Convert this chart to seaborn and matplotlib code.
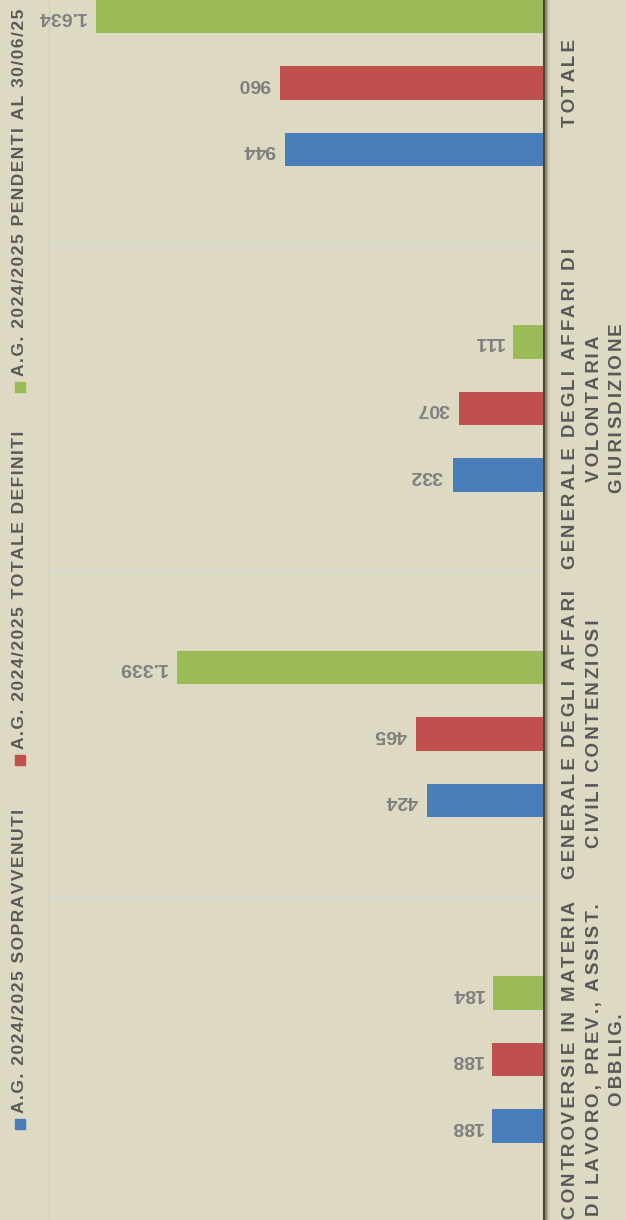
import pandas as pd
import numpy as np
import matplotlib
matplotlib.use("Agg")
import matplotlib.pyplot as plt
from matplotlib.patches import Rectangle
import seaborn as sns

# Dati
categorie = [
    "CONTROVERSIE IN MATERIA\nDI LAVORO, PREV., ASSIST.\nOBBLIG.",
    "GENERALE DEGLI AFFARI\nCIVILI CONTENZIOSI",
    "GENERALE DEGLI AFFARI DI\nVOLONTARIA\nGIURISDIZIONE",
    "TOTALE",
]
serie = [
    "A.G. 2024/2025 SOPRAVVENUTI",
    "A.G. 2024/2025 TOTALE DEFINITI",
    "A.G. 2024/2025 PENDENTI AL 30/06/25",
]
sopravvenuti = [188, 424, 332, 944]
definiti = [188, 465, 307, 960]
pendenti = [184, 1339, 111, 1634]
colori = ["#4a7ebb", "#c0504d", "#9bbb59"]

plt.rcParams['font.family'] = ['Liberation Sans', 'DejaVu Sans']

W, H = 626, 1220
sfondo = "#ddd9c3"

df = pd.DataFrame({
    "categoria": categorie * 3,
    "serie": [s for s in serie for _ in categorie],
    "valore": sopravvenuti + definiti + pendenti,
})

fig = plt.figure(figsize=(W / 100, H / 100), dpi=100, facecolor=sfondo)
ax = fig.add_axes([49 / W, 0, 494.5 / W, 1], facecolor=sfondo)

sns.barplot(data=df, x="valore", y="categoria", hue="serie",
            order=categorie[::-1], hue_order=serie[::-1],
            palette=dict(zip(serie, colori)), orient="h",
            width=0.613, gap=0.49, saturation=1, legend=False, ax=ax)

ax.set_xlim(1805, 0)
ax.set_ylim(3.493, -0.255)
ax.set_xlabel("")
ax.set_ylabel("")
ax.set_xticks([])

# linee di separazione tra le categorie
for yy in [0.5, 1.5, 2.5]:
    ax.axhline(yy, color="#dadada", lw=0.9, zorder=0)

for s in ["top", "bottom"]:
    ax.spines[s].set_visible(False)
ax.spines["left"].set_color("#d4d0b9")
ax.spines["left"].set_linewidth(1)
ax.spines["right"].set_color("#4b4733")
ax.spines["right"].set_linewidth(2.2)
# ombra dell'asse
for dx, c in [(2.5, "#8a8670"), (4, "#b3af97"), (5.5, "#cdc9b2")]:
    fig.add_artist(plt.Line2D([(543.5 + dx) / W] * 2, [0, 1], color=c, lw=1.5,
                              transform=fig.transFigure))

# etichette dei valori (capovolte)
for cont in ax.containers:
    for bar in cont:
        v = bar.get_width()
        yc = bar.get_y() + bar.get_height() / 2
        testo = f"{int(round(v)):,}".replace(",", ".")
        ax.annotate(testo, xy=(v, yc), xytext=(-7, 0), textcoords="offset points",
                    rotation=180, ha="right", va="center", fontsize=14,
                    fontweight="bold", color="#7f7f7f")

# spaziatura tra le lettere con hair space (alterna 1 e n)
def spaziato(s, n):
    righe = []
    for riga in s.split("\n"):
        out = ""
        for i, ch in enumerate(riga):
            out += ch
            if i < len(riga) - 1:
                out += "\u200a" * (n if i % 2 == 0 else 1)
        righe.append(out)
    return "\n".join(righe)

# etichette delle categorie a destra, ruotate
ax.yaxis.tick_right()
ax.set_yticks(range(4))
ax.set_yticklabels([spaziato(c, 2) for c in categorie[::-1]], rotation=90,
                   ha="left", va="center", multialignment="center",
                   fontsize=13.5, fontweight="bold", color="#595959",
                   linespacing=1.5)
ax.tick_params(axis="y", length=0, pad=13.5)

# legenda manuale, ruotata
leg_y = [1124, 760, 387]
for s, c, yy in zip(serie, colori, leg_y):
    fig.add_artist(Rectangle((15 / W, (H - yy - 5) / H), 10 / W, 10 / H,
                             color=c, transform=fig.transFigure))
    fig.text(19.5 / W, (H - yy + 11) / H, spaziato(s, 1), rotation=90,
             ha="center", va="bottom", fontsize=12.5, fontweight="bold",
             color="#595959")

plt.savefig("out.png", dpi=100, facecolor=sfondo)
